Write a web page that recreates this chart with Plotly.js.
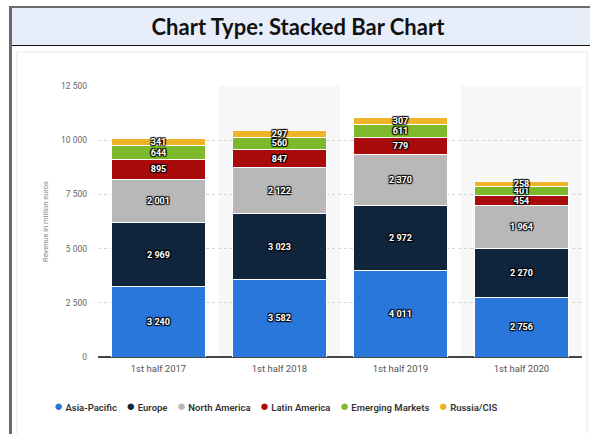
<!DOCTYPE html>
<html><head><meta charset="utf-8">
<script src="https://cdn.plot.ly/plotly-3.0.1.min.js"></script>
<style>
html,body{margin:0;padding:0;background:#fff;}
#wrap{position:relative;width:590px;height:434px;overflow:hidden;background:#fff;}
#frameL{position:absolute;left:9px;top:6px;width:3px;height:440px;background:#6a6a6a;}
#frameT{position:absolute;left:9px;top:6px;width:600px;height:2px;background:#6a6a6a;}
#head{position:absolute;left:12px;top:8px;width:600px;height:37px;background:#e7eefa;border-bottom:1.5px solid #111;}
#inner{position:absolute;left:16px;top:51px;width:568px;height:420px;border:2px solid #f4f4f4;}
#chart{position:absolute;left:0;top:0;width:590px;height:434px;}
</style></head>
<body><div id="wrap"><div id="frameL"></div><div id="frameT"></div><div id="head"></div><div id="inner"></div><div id="chart"></div></div>
<script>
const categories = ['1st half 2017','1st half 2018','1st half 2019','1st half 2020'];
const regions = ['Asia-Pacific','Europe','North America','Latin America','Emerging Markets','Russia/CIS'];
const asiaPacific = [3240, 3582, 4011, 2756];
const europe = [2969, 3023, 2972, 2270];
const northAmerica = [2001, 2122, 2370, 1964];
const latinAmerica = [895, 847, 779, 454];
const emergingMarkets = [644, 560, 611, 401];
const russiaCIS = [341, 297, 307, 258];
const colors = ['#2a77dc','#10243c','#b8b8b8','#a90b0b','#7db92a','#efb327'];

const series = [asiaPacific, europe, northAmerica, latinAmerica, emergingMarkets, russiaCIS];
const shadow = '1px 1px 1px #000, -1px -1px 1px #000, 1px -1px 1px #000, -1px 1px 1px #000';
const traces = series.map((vals, i) => ({
  type: 'bar', name: regions[i], x: categories, y: vals,
  marker: {color: colors[i], line: {color: '#ffffff', width: 1}},
  texttemplate: '%{y:,}', textposition: 'inside', insidetextanchor: 'middle',
  textangle: 0, constraintext: 'none',
  textfont: {color: '#ffffff', size: 9, family: 'Roboto', weight: 700, shadow: shadow},
  showlegend: false, hoverinfo: 'skip'
}));

const legendText = regions.map((r, i) =>
  '<span style="color:' + colors[i] + ';font-size:15px">●</span> ' + r).join('&nbsp;&nbsp;&nbsp;&nbsp;');

const layout = {
  width: 590, height: 434,
  margin: {l: 98, r: 8, t: 86, b: 77},
  paper_bgcolor: 'rgba(0,0,0,0)', plot_bgcolor: 'rgba(0,0,0,0)',
  barmode: 'stack', bargap: 0.23,
  separators: '. ',
  title: {text: 'Chart Type: Stacked Bar Chart', xref: 'container', yref: 'container',
    x: 0.505, y: 0.938, xanchor: 'center', yanchor: 'middle',
    font: {family: 'Lato', size: 22, weight: 700, color: '#111'}},
  xaxis: {type: 'category', showgrid: false, ticks: '', ticklabelstandoff: 4,
    tickfont: {family: 'Roboto', size: 9.5, color: '#555'}},
  yaxis: {range: [0, 12500], dtick: 2500, tickformat: ',', showgrid: true,
    gridcolor: '#d4d4d4', griddash: 'dot', gridwidth: 1,
    zeroline: true, zerolinecolor: '#444', zerolinewidth: 1.5,
    ticks: '', ticklabelstandoff: 10,
    tickfont: {family: 'Roboto', size: 8.5, color: '#666'},
    title: {text: 'Revenue in million euros', standoff: 11,
      font: {family: 'Roboto', size: 7.5, color: '#888'}}},
  shapes: [
    {type: 'rect', xref: 'x', yref: 'paper', x0: 0.5, x1: 1.5, y0: 0, y1: 1,
      fillcolor: '#f7f7f7', line: {width: 0}, layer: 'below'},
    {type: 'rect', xref: 'x', yref: 'paper', x0: 2.5, x1: 3.5, y0: 0, y1: 1,
      fillcolor: '#f7f7f7', line: {width: 0}, layer: 'below'}
  ],
  annotations: [{
    text: legendText, xref: 'paper', yref: 'paper', x: 0.366, y: -0.181,
    xanchor: 'center', yanchor: 'middle', showarrow: false,
    font: {family: 'Roboto', size: 9.5, weight: 600, color: '#333'}
  }]
};

Plotly.newPlot('chart', traces, layout, {displayModeBar: false, staticPlot: true});
</script>
</body></html>
